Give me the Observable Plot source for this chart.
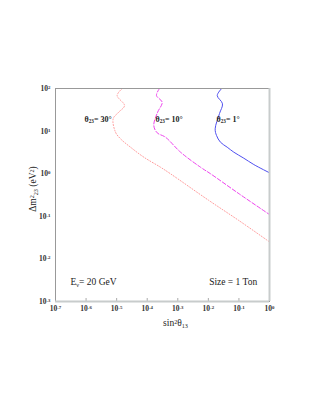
<!DOCTYPE html>
<html>
<head>
<meta charset="utf-8">
<script src="https://cdn.jsdelivr.net/npm/d3@7"></script>
<script src="https://cdn.jsdelivr.net/npm/@observablehq/plot@0.6"></script>
<style>
  html, body { margin: 0; padding: 0; background: #fff; }
</style>
</head>
<body>
<div id="chart"></div>
<script>
// ---- data ----
// θ = 1° (solid blue)
const blueSin2 = [0.0273, 0.0195, 0.0290, 0.0232, 0.0167, 0.0185, 0.0249, 0.0413, 0.0681, 0.1445, 0.307, 1.0];
const blueDm2  = [100, 68.5, 43.7, 25.9, 11.3, 7.89, 5.48, 4.19, 3.20, 2.31, 1.64, 1.05];
// θ = 10° (dashed magenta)
const magSin2 = [2.52e-4, 2.01e-4, 3.09e-4, 2.17e-4, 1.64e-4, 2.12e-4, 3.96e-4, 1.23e-3, 5.53e-3, 0.0117, 0.1, 1.0];
const magDm2  = [100, 68.5, 47.6, 27.4, 13.5, 9.12, 7.19, 3.20, 1.42, 1.0, 0.339, 0.110];
// θ = 30° (dotted pink)
const pinkSin2 = [1.52e-5, 1.04e-5, 1.81e-5, 1.15e-5, 7.71e-6, 9.18e-6, 1.34e-5, 2.84e-5, 7.76e-5, 2.72e-4, 5.78e-4, 0.01, 0.1, 1.0];
const pinkDm2  = [100, 68.5, 39.8, 27.5, 19.5, 9.44, 6.59, 4.19, 2.44, 1.42, 0.995, 0.240, 0.0794, 0.0251];

const xTickValues = [1e-7, 1e-6, 1e-5, 1e-4, 1e-3, 1e-2, 1e-1, 1];
const xTickLabels = ["10^{-7}", "10^{-6}", "10^{-5}", "10^{-4}", "10^{-3}", "10^{-2}", "10^{-1}", "10^{0}"];
const yTickValues = [1e-3, 1e-2, 1e-1, 1, 10, 100];
const yTickLabels = ["10^{-3}", "10^{-2}", "10^{-1}", "10^{0}", "10^{1}", "10^{2}"];

const curveLabels = ["θ_{23}= 30°", "θ_{23}= 10°", "θ_{23}= 1°"];
const curveLabelX = [8.9e-7, 1.87e-4, 0.0185];
const curveLabelY = [18.7, 18.7, 18.7];

const xTitle = "sin^{2}θ_{13}";
const yTitle = "Δm^{2}_{23} (eV^{2})";
const energyNote = "E_{ν}= 20 GeV";
const sizeNote = "Size = 1 Ton";

// ---- build tables ----
const toRows = (xs, ys) => xs.map((x, i) => ({x, y: ys[i]}));
const blue = toRows(blueSin2, blueDm2);
const mag = toRows(magSin2, magDm2);
const pink = toRows(pinkSin2, pinkDm2);
const labelRows = curveLabels.map((t, i) => ({t, x: curveLabelX[i], y: curveLabelY[i]}));
const xLabelOf = new Map(xTickValues.map((v, i) => [v, xTickLabels[i]]));
const yLabelOf = new Map(yTickValues.map((v, i) => [v, yTickLabels[i]]));

const font = "Liberation Serif, Times New Roman, serif";

const chart = Plot.plot({
  width: 312,
  height: 403,
  marginLeft: 55,
  marginRight: 43,
  marginTop: 88,
  marginBottom: 102,
  style: {fontFamily: font, background: "#fff", color: "#222"},
  x: {type: "log", domain: [1e-7, 1]},
  y: {type: "log", domain: [1e-3, 100]},
  marks: [
    Plot.line(pink, {x: "x", y: "y", stroke: "#ff9c9c", strokeWidth: 1, strokeDasharray: "1,1.8", curve: "catmull-rom", clip: true}),
    Plot.line(mag, {x: "x", y: "y", stroke: "#ee44ee", strokeWidth: 1, strokeDasharray: "4,2", curve: "catmull-rom", clip: true}),
    Plot.line(blue, {x: "x", y: "y", stroke: "#5050f0", strokeWidth: 1, curve: "catmull-rom", clip: true}),
    Plot.ruleX(xTickValues, {stroke: "#aaa", insetTop: 210}),
    Plot.frame({stroke: "#999", strokeWidth: 1}),
    Plot.ruleX([1], {stroke: "#c8cccc", strokeWidth: 2}),
    Plot.ruleY([1e-3], {stroke: "#c8cccc", strokeWidth: 2}),
    Plot.axisX({ticks: xTickValues, tickFormat: (d) => xLabelOf.get(d), tickSize: 0, tickPadding: 4, label: null,
      fontSize: 7.5, fontWeight: "bold", fill: "#333"}),
    Plot.axisY({ticks: yTickValues, tickFormat: (d) => yLabelOf.get(d), tickSize: 0, tickPadding: 5, label: null,
      fontSize: 7.5, fontWeight: "bold", fill: "#333"}),
    Plot.text(labelRows, {x: "x", y: "y", text: "t", textAnchor: "start", fontSize: 8, fontWeight: "bold", fill: "#222"}),
    Plot.text([energyNote], {x: [3.09e-7], y: [2.84e-3], textAnchor: "start", fontSize: 9.5, fill: "#222"}),
    Plot.text([sizeNote], {x: [0.396], y: [2.84e-3], textAnchor: "end", fontSize: 9.5, fill: "#222"}),
    Plot.text([xTitle], {frameAnchor: "bottom", dx: 13, dy: 24, fontSize: 9.5, fill: "#222"}),
    Plot.text([yTitle], {frameAnchor: "left", rotate: -90, textAnchor: "middle", dx: -23, dy: -6, fontSize: 9.5, fill: "#222"})
  ]
});

// turn ^{..} and _{..} markup into real super/subscript tspans
d3.select(chart).selectAll("text").each(function() {
  const t = this.textContent;
  if (!/[\^_]\{/.test(t)) return;
  const re = /([\^_])\{([^}]*)\}|([^\^_]+)/g;
  const parts = [];
  let m;
  while ((m = re.exec(t))) {
    if (m[3] !== undefined) parts.push({s: m[3], k: null});
    else parts.push({s: m[2], k: m[1]});
  }
  const el = d3.select(this);
  el.text(null);
  for (const p of parts) {
    const ts = el.append("tspan").text(p.s);
    if (p.k === "^") ts.attr("baseline-shift", "40%").attr("font-size", "65%");
    else if (p.k === "_") ts.attr("baseline-shift", "-25%").attr("font-size", "65%");
  }
});

document.getElementById("chart").appendChild(chart);
</script>
</body>
</html>
